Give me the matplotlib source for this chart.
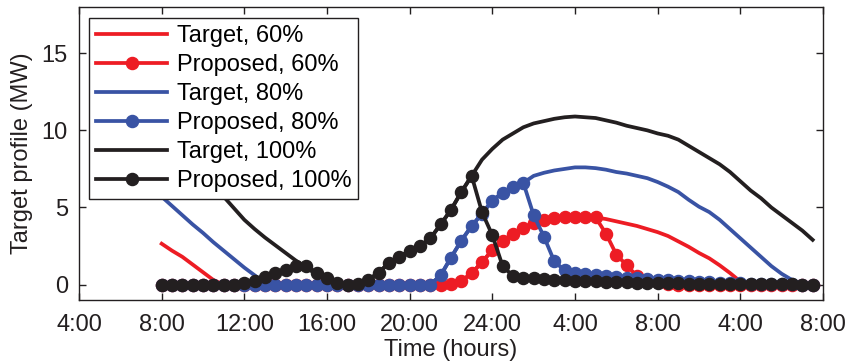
import matplotlib
matplotlib.use("Agg")
import matplotlib.pyplot as plt

plt.rcParams['font.family'] = ['Liberation Sans', 'DejaVu Sans']

hours = [8.0, 8.5, 9.0, 9.5, 10.0, 10.5, 11.0, 11.5, 12.0, 12.5, 13.0, 13.5,
         14.0, 14.5, 15.0, 15.5, 16.0, 16.5, 17.0, 17.5, 18.0, 18.5, 19.0, 19.5,
         20.0, 20.5, 21.0, 21.5, 22.0, 22.5, 23.0, 23.5, 24.0, 24.5, 25.0, 25.5,
         26.0, 26.5, 27.0, 27.5, 28.0, 28.5, 29.0, 29.5, 30.0, 30.5, 31.0, 31.5,
         32.0, 32.5, 33.0, 33.5, 34.0, 34.5, 35.0, 35.5, 36.0, 36.5, 37.0, 37.5,
         38.0, 38.5, 39.0, 39.5]

target_60 = [2.65, 2.2, 1.8, 1.3, 0.8, 0.3, 0, 0, 0, 0, 0, 0,
             0, 0, 0, 0, 0, 0, 0, 0, 0, 0, 0, 0,
             0, 0, 0, 0, 0.05, 0.25, 0.72, 1.47, 2.22, 2.82, 3.3, 3.65,
             4.0, 4.2, 4.3, 4.35, 4.4, 4.4, 4.35, 4.25, 4.1, 3.95, 3.8, 3.6,
             3.4, 3.15, 2.8, 2.45, 2.05, 1.7, 1.25, 0.75, 0.2, 0, 0, 0,
             0, 0, 0, 0]
proposed_60 = [0, 0, 0, 0, 0, 0, 0, 0, 0, 0, 0, 0,
               0, 0, 0, 0, 0, 0, 0, 0, 0, 0, 0, 0,
               0, 0, 0, 0, 0.05, 0.25, 0.72, 1.47, 2.22, 2.82, 3.3, 3.65,
               4.0, 4.2, 4.3, 4.35, 4.4, 4.4, 4.35, 3.3, 1.95, 1.25, 0.55, 0.3,
               0.15, 0.05, 0, 0, 0, 0, 0, 0, 0, 0, 0, 0,
               0, 0, 0, 0]
target_80 = [5.7, 5.1, 4.5, 3.9, 3.35, 2.75, 2.2, 1.65, 1.1, 0.6, 0.1, 0,
             0, 0, 0, 0, 0, 0, 0, 0, 0, 0, 0, 0,
             0, 0, 0, 0.6, 1.75, 2.85, 3.8, 4.6, 5.45, 5.95, 6.32, 6.6,
             7.05, 7.25, 7.4, 7.5, 7.6, 7.6, 7.55, 7.45, 7.3, 7.2, 7.05, 6.9,
             6.65, 6.35, 6.0, 5.5, 5.05, 4.7, 4.2, 3.6, 3.0, 2.4, 1.8, 1.2,
             0.7, 0.3, 0, 0]
proposed_80 = [0, 0, 0, 0, 0, 0, 0, 0, 0, 0, 0, 0,
               0, 0, 0, 0, 0, 0, 0, 0, 0, 0, 0, 0,
               0, 0, 0, 0.6, 1.75, 2.85, 3.8, 4.6, 5.45, 5.95, 6.32, 6.6,
               4.5, 3.1, 1.5, 0.92, 0.78, 0.7, 0.62, 0.55, 0.5, 0.45, 0.4, 0.35,
               0.3, 0.27, 0.24, 0.2, 0.18, 0.15, 0.12, 0.1, 0.08, 0.06, 0.04, 0.03,
               0.02, 0.01, 0, 0]
target_100 = [9.9, 9.3, 8.6, 7.9, 7.2, 6.45, 5.7, 4.95, 4.2, 3.6, 3.05, 2.55,
              2.05, 1.55, 1.1, 0.65, 0.25, 0, 0, 0, 0.3, 0.78, 1.4, 1.8,
              2.2, 2.5, 3.0, 3.9, 4.85, 6.0, 7.05, 8.1, 8.8, 9.4, 9.8, 10.2,
              10.45, 10.6, 10.75, 10.85, 10.9, 10.85, 10.8, 10.65, 10.5, 10.3, 10.15, 10.0,
              9.8, 9.65, 9.4, 9.0, 8.6, 8.2, 7.8, 7.3, 6.7, 6.1, 5.6, 5.0,
              4.5, 4.0, 3.5, 2.9]
proposed_100 = [0, 0, 0, 0, 0, 0, 0, 0, 0.1, 0.25, 0.5, 0.72,
                0.92, 1.22, 1.2, 0.75, 0.43, 0.1, 0, 0.02, 0.3, 0.78, 1.4, 1.8,
                2.2, 2.5, 3.0, 3.9, 4.85, 6.0, 7.05, 4.7, 3.2, 1.2, 0.55, 0.45,
                0.4, 0.35, 0.32, 0.28, 0.25, 0.22, 0.2, 0.18, 0.16, 0.14, 0.12, 0.1,
                0.09, 0.08, 0.07, 0.06, 0.05, 0.05, 0.04, 0.04, 0.03, 0.03, 0.02, 0.02,
                0.01, 0.01, 0, 0]

xtick_pos = [4, 8, 12, 16, 20, 24, 28, 32, 36, 40]
xtick_labels = ['4:00', '8:00', '12:00', '16:00', '20:00', '24:00',
                '4:00', '8:00', '4:00', '8:00']
ytick_pos = [0, 5, 10, 15]

RED = '#ED1C24'
BLUE = '#3953A4'
BLACK = '#231F20'

fig = plt.figure(figsize=(8.52, 3.64), dpi=100)
ax = fig.add_axes([79 / 852, 1 - 300 / 364, (823 - 79) / 852, (300 - 7) / 364])

lw = 2.7
ms = 8.7
ax.plot(hours, target_60, color=RED, lw=lw, label='Target, 60%')
ax.plot(hours, proposed_60, color=RED, lw=lw, marker='o', ms=ms, label='Proposed, 60%')
ax.plot(hours, target_80, color=BLUE, lw=lw, label='Target, 80%')
ax.plot(hours, proposed_80, color=BLUE, lw=lw, marker='o', ms=ms, label='Proposed, 80%')
ax.plot(hours, target_100, color=BLACK, lw=lw, label='Target, 100%')
ax.plot(hours, proposed_100, color=BLACK, lw=lw, marker='o', ms=ms, label='Proposed, 100%')

ax.set_xlim(4, 40)
ax.set_ylim(-1, 18)
ax.set_xticks(xtick_pos)
ax.set_xticklabels(xtick_labels)
ax.set_yticks(ytick_pos)
ax.tick_params(axis='x', pad=10)
ax.tick_params(direction='in', top=True, right=True, length=5, width=1,
               labelsize=17, colors=BLACK)
ax.tick_params(axis='y', pad=8)
for s in ax.spines.values():
    s.set_linewidth(1.0)
    s.set_color(BLACK)

ax.set_xlabel('Time (hours)', fontsize=17, color=BLACK, labelpad=2)
ax.set_ylabel('Target profile (MW)', fontsize=17, color=BLACK, labelpad=6)

leg = ax.legend(loc='upper left', bbox_to_anchor=(0.014, 0.963), fontsize=17,
                frameon=True, fancybox=False, framealpha=1, edgecolor=BLACK,
                handlelength=3.0, handletextpad=0.4, labelspacing=0.3,
                borderpad=0.3, borderaxespad=0)
leg.get_frame().set_linewidth(1.0)

fig.savefig('out.png', dpi=100)
